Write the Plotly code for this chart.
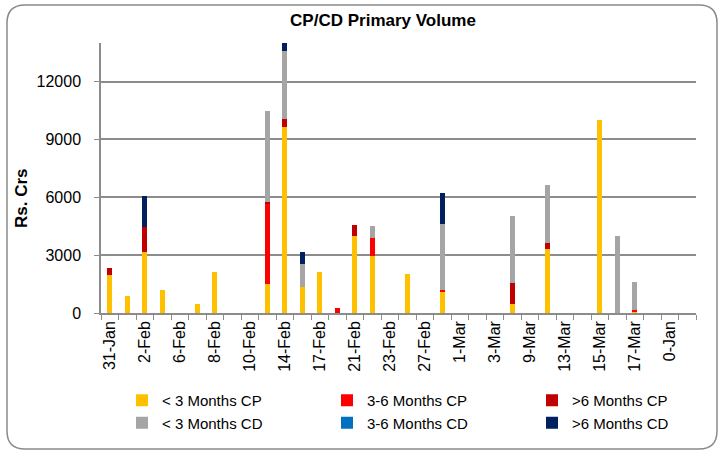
import plotly.graph_objects as go

# ---- data ----
categories = ["31-Jan", "1-Feb", "2-Feb", "3-Feb", "6-Feb", "7-Feb", "8-Feb", "9-Feb",
              "10-Feb", "13-Feb", "14-Feb", "15-Feb", "17-Feb", "20-Feb", "21-Feb", "22-Feb",
              "23-Feb", "24-Feb", "27-Feb", "28-Feb", "1-Mar", "2-Mar", "3-Mar", "6-Mar",
              "9-Mar", "10-Mar", "13-Mar", "14-Mar", "15-Mar", "16-Mar", "17-Mar", "20-Mar",
              "0-Jan", "0-Jan (2)"]
tick_labels = ["31-Jan", "", "2-Feb", "", "6-Feb", "", "8-Feb", "", "10-Feb", "", "14-Feb", "",
               "17-Feb", "", "21-Feb", "", "23-Feb", "", "27-Feb", "", "1-Mar", "", "3-Mar", "",
               "9-Mar", "", "13-Mar", "", "15-Mar", "", "17-Mar", "", "0-Jan", ""]

lt3_cp = [1950, 870, 3170, 1180, 0, 450, 2110, 0, 0, 1490, 9660, 1370, 2110, 0, 3985, 2960,
          0, 2000, 0, 1130, 0, 0, 0, 450, 0, 3310, 0, 0, 10000, 0, 100, 0, 0, 0]
m36_cp = [0, 0, 0, 0, 0, 0, 0, 0, 0, 4190, 0, 0, 0, 280, 0, 905,
          0, 0, 0, 80, 0, 0, 0, 0, 0, 0, 0, 0, 0, 0, 40, 0, 0, 0]
gt6_cp = [390, 0, 1265, 0, 0, 0, 0, 0, 0, 60, 400, 0, 0, 0, 570, 0,
          0, 0, 0, 0, 0, 0, 0, 1110, 0, 300, 0, 0, 0, 0, 0, 0, 0, 0]
lt3_cd = [0, 0, 0, 0, 0, 0, 0, 0, 0, 4730, 3500, 1160, 0, 0, 0, 640,
          0, 0, 0, 3380, 0, 0, 0, 3480, 0, 3010, 0, 0, 0, 4000, 1470, 0, 0, 0]
m36_cd = [0] * 34
gt6_cd = [0, 0, 1630, 0, 0, 0, 0, 0, 0, 0, 500, 640, 0, 0, 0, 0,
          0, 0, 0, 1640, 0, 0, 0, 0, 0, 0, 0, 0, 0, 0, 0, 0, 0, 0]

series = [
    ("< 3 Months CP", lt3_cp, "#FFC000", "legend"),
    ("3-6 Months CP", m36_cp, "#FF0000", "legend2"),
    (">6 Months CP", gt6_cp, "#C00000", "legend3"),
    ("< 3 Months CD", lt3_cd, "#A5A5A5", "legend"),
    ("3-6 Months CD", m36_cd, "#0070C0", "legend2"),
    (">6 Months CD", gt6_cd, "#002060", "legend3"),
]

FONT = "Liberation Sans"
W, H = 720, 452
L, R, T, B = 101, 696, 43, 313


def px(x):
    return (x - L) / (R - L)


def py(y):
    return (B - y) / (B - T)


fig = go.Figure()
for name, vals, color, leg in series:
    fig.add_trace(go.Bar(x=categories, y=vals, name=name, marker_color=color,
                         marker_line_width=0, legend=leg))

# rounded outer border
x0, x1, y0, y1, r = 7, 717, 5, 449, 18
path = (f"M {px(x0 + r)},{py(y0)} L {px(x1 - r)},{py(y0)} Q {px(x1)},{py(y0)} {px(x1)},{py(y0 + r)} "
        f"L {px(x1)},{py(y1 - r)} Q {px(x1)},{py(y1)} {px(x1 - r)},{py(y1)} "
        f"L {px(x0 + r)},{py(y1)} Q {px(x0)},{py(y1)} {px(x0)},{py(y1 - r)} "
        f"L {px(x0)},{py(y0 + r)} Q {px(x0)},{py(y0)} {px(x0 + r)},{py(y0)} Z")
fig.add_shape(type="path", path=path, xref="paper", yref="paper",
              line=dict(color="#8A8A8A", width=1.5), layer="below")

leg_common = dict(orientation="v", xanchor="left", yanchor="top", bgcolor="rgba(0,0,0,0)",
                  font=dict(family=FONT, size=15, color="#000000"), tracegroupgap=0,
                  traceorder="normal", itemsizing="constant")
legy = py(384)
fig.update_layout(
    legend=dict(x=px(122), y=legy, **leg_common),
    legend2=dict(x=px(327), y=legy, **leg_common),
    legend3=dict(x=px(532), y=legy, **leg_common),
)

fig.update_layout(
    width=W, height=H,
    margin=dict(l=L, r=W - R, t=T, b=H - B, autoexpand=False),
    paper_bgcolor="white", plot_bgcolor="white",
    barmode="stack", bargap=0.71,
    showlegend=True,
    font=dict(family=FONT, size=16, color="#000000"),
    title=dict(text="<b>CP/CD Primary Volume</b>", x=383 / W, xanchor="center",
               y=1 - 20 / H, yanchor="middle", font=dict(family=FONT, size=17, color="#000000")),
    xaxis=dict(type="category", tickvals=categories, ticktext=tick_labels,
               tickangle=-90, tickson="boundaries", ticks="outside", ticklen=5,
               tickcolor="#8C8C8C", showline=True, linecolor="#8C8C8C", linewidth=1.5,
               showgrid=False, automargin=False,
               tickfont=dict(family=FONT, size=16, color="#000000")),
    yaxis=dict(range=[0, 14000], tickvals=[0, 3000, 6000, 9000, 12000], tickformat="d",
               ticks="outside", automargin=False,
               ticklen=5, tickcolor="#8C8C8C", showline=True, linecolor="#8C8C8C", linewidth=1.5,
               showgrid=True, gridcolor="#8C8C8C", gridwidth=1.5, zeroline=False,
               ticklabelstandoff=10,
               tickfont=dict(family=FONT, size=16, color="#000000")),
)

fig.add_annotation(text="<b>Rs. Crs</b>", xref="paper", yref="paper", x=px(21), y=py(198),
                   textangle=-90, showarrow=False, xanchor="center", yanchor="middle",
                   font=dict(family=FONT, size=17, color="#000000"))

fig.write_html("out.html", config={"displayModeBar": False},
               post_script="document.body.style.margin='0';")
